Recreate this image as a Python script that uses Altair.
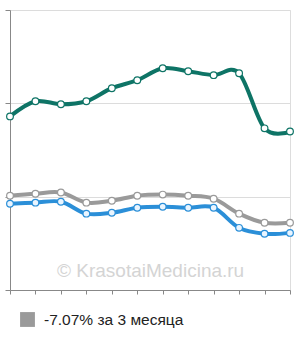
import altair as alt
import pandas as pd

months = list(range(12))
teal = [93.0, 101.1, 99.5, 101.1, 108.1, 112.4, 118.8, 117.2, 115.1, 116.1, 86.6, 84.9]
grey = [50.5, 51.6, 52.2, 46.8, 47.8, 50.5, 51.1, 50.5, 48.9, 40.9, 36.0, 36.0]
blue = [46.2, 46.8, 47.3, 40.9, 41.4, 44.1, 44.6, 44.1, 44.1, 33.3, 30.1, 30.6]
series_names = ["teal", "grey", "blue"]
series_colors = ["#0e7466", "#9a9a9a", "#2b8fd8"]
point_fills = ["#ffffff", "#ffffff", "#eaf5ff"]
legend_label = "-7.07% за 3 месяца"
watermark = "© KrasotaiMedicina.ru"

rows = []
for name, vals in zip(series_names, [teal, grey, blue]):
    for m, v in zip(months, vals):
        rows.append({"m": m, "v": v, "s": name})
df = pd.DataFrame(rows)

x = alt.X("m:Q", scale=alt.Scale(domain=[0, 11], nice=False),
          axis=alt.Axis(values=months, labels=False, title=None, grid=False,
                        tickSize=4, tickColor="#888", domainColor="#888", domainWidth=1))
y = alt.Y("v:Q", scale=alt.Scale(domain=[0, 150], nice=False),
          axis=alt.Axis(values=[0, 50, 100, 150], labels=False, title=None, grid=True,
                        gridColor="#dcdcdc", gridWidth=1, tickSize=5, tickColor="#888",
                        domainColor="#888", domainWidth=1))

base = alt.Chart(df)
lines = base.mark_line(interpolate="cardinal", strokeWidth=4).encode(
    x=x, y=y,
    color=alt.Color("s:N", scale=alt.Scale(domain=series_names, range=series_colors), legend=None),
)
pts = base.mark_point(filled=False, size=45, strokeWidth=1.2, opacity=1).encode(
    x=x, y=y,
    color=alt.Color("s:N", scale=alt.Scale(domain=series_names, range=series_colors), legend=None),
    fill=alt.Fill("s:N", scale=alt.Scale(domain=series_names, range=point_fills), legend=None),
)

wm = alt.Chart(pd.DataFrame({"t": [watermark]})).mark_text(
    font="Liberation Sans", fontSize=19, color="#d4d4d4", align="left", baseline="middle"
).encode(x=alt.value(47), y=alt.value(261), text="t:N")

leg_sq = alt.Chart(pd.DataFrame({"t": [legend_label]})).mark_square(
    size=220, color="#9a9a9a", opacity=1, cornerRadius=2
).encode(x=alt.value(17.5), y=alt.value(309.5))
leg_tx = alt.Chart(pd.DataFrame({"t": [legend_label]})).mark_text(
    font="Liberation Sans", fontSize=15.5, color="#222", align="left", baseline="middle"
).encode(x=alt.value(34), y=alt.value(310), text="t:N")

chart = alt.layer(lines, pts, wm, leg_sq, leg_tx).properties(
    width=280, height=280,
    autosize=alt.AutoSizeParams(type="none"),
    padding={"left": 10, "top": 10, "right": 10, "bottom": 50},
).configure_view(stroke=None).configure(background="white")

chart.save("out.html", embed_options={"renderer": "svg", "actions": False})
